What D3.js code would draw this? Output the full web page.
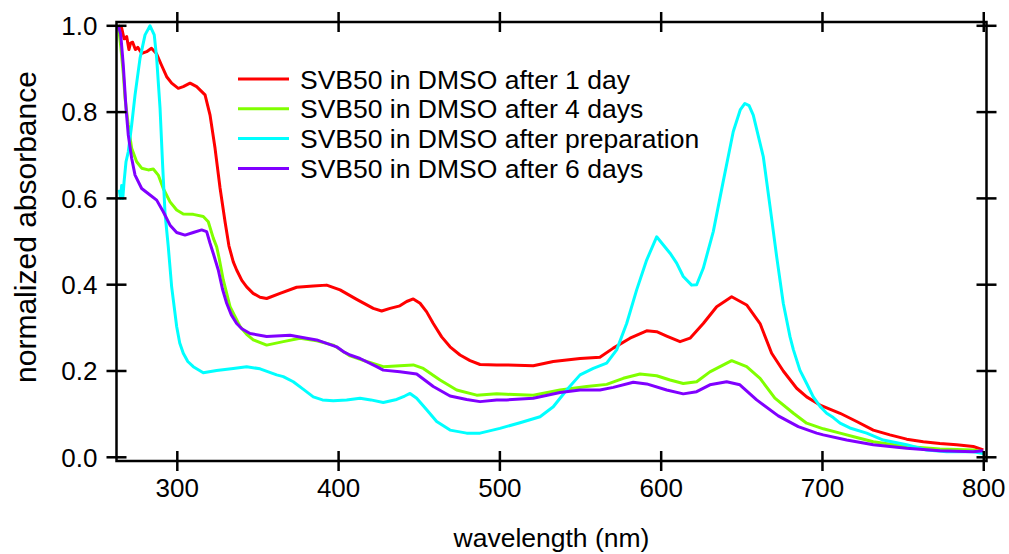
<!DOCTYPE html>
<html>
<head>
    <title>SVB50 absorbance</title>
    <meta charset="utf-8">
    <script src="https://cdn.jsdelivr.net/npm/d3@7/dist/d3.min.js"></script>
    <style>
        body {
            margin: 0;
            background: #fff;
        }

        svg {
            display: block;
            font-family: "Liberation Sans", Arial, sans-serif;
        }

        .frame line, .frame rect {
            stroke: #000;
            stroke-width: 2.5;
            fill: none;
        }

        .spectrum {
            fill: none;
            stroke-width: 3;
            stroke-linejoin: round;
        }
    </style>
</head>
<body>
<svg width="1009" height="554"></svg>
<script type="text/javascript">

var seriesNames = [
    'SVB50 in DMSO after 1 day',
    'SVB50 in DMSO after 4 days',
    'SVB50 in DMSO after preparation',
    'SVB50 in DMSO after 6 days'
];

var seriesColors = ['#ff0000', '#80ff00', '#00ffff', '#8000ff'];

// [wavelength nm, normalized absorbance]
var day1 = [
    [263.5, 1.0], [265.5, 0.995], [267, 0.97], [268.6, 0.975], [270, 0.945], [271, 0.96],
    [272.3, 0.962], [274, 0.945], [275.5, 0.95], [278, 0.936], [281, 0.94], [284, 0.948],
    [287, 0.936], [290.3, 0.908], [293.4, 0.882], [296.5, 0.867], [300.6, 0.855], [303.7, 0.859],
    [307.9, 0.867], [312, 0.859], [317.2, 0.84], [320.3, 0.793], [323.4, 0.716], [326.5, 0.624],
    [329.6, 0.546], [332, 0.49], [334.7, 0.453], [336.8, 0.434], [340, 0.41], [343, 0.395],
    [347, 0.38], [351.3, 0.371], [355.4, 0.368], [363.7, 0.38], [374, 0.394], [384.3, 0.397],
    [392.6, 0.399], [400.9, 0.388], [411.2, 0.366], [421.5, 0.345], [426.7, 0.339], [431.9, 0.345],
    [438, 0.351], [442.2, 0.361], [446.3, 0.367], [450.5, 0.357], [454.6, 0.337], [458.7, 0.31],
    [463.9, 0.279], [469.1, 0.256], [475.3, 0.237], [481.5, 0.224], [487.7, 0.215], [498, 0.214],
    [504.2, 0.214], [520.7, 0.212], [533.1, 0.222], [549.7, 0.229], [562, 0.232], [570.3, 0.253],
    [580.7, 0.276], [591, 0.293], [597.2, 0.291], [603.4, 0.281], [611.7, 0.268], [617.9, 0.276],
    [626.1, 0.31], [634.4, 0.349], [643.7, 0.372], [653, 0.353], [661.3, 0.31], [668.5, 0.241],
    [675.7, 0.2], [684, 0.16], [690.2, 0.14], [696.4, 0.126], [698.5, 0.121], [710.9, 0.102],
    [721.2, 0.083], [731.5, 0.063], [741.8, 0.052], [752.2, 0.042], [762.5, 0.036], [772.8, 0.032],
    [783.2, 0.029], [793.5, 0.025], [799.7, 0.017]
];

var day4 = [
    [263.5, 1.0], [265, 0.95], [266.5, 0.89], [267.6, 0.832], [269.6, 0.77], [271.7, 0.716],
    [274.8, 0.685], [277.9, 0.67], [282, 0.666], [285.1, 0.668], [288.2, 0.654], [291.3, 0.623],
    [295.5, 0.592], [299.6, 0.573], [303.7, 0.564], [309.9, 0.563], [316.1, 0.558], [319.2, 0.546],
    [322.3, 0.508], [324.4, 0.488], [326, 0.46], [328.5, 0.411], [332.7, 0.349], [338.9, 0.303],
    [343, 0.285], [347.1, 0.272], [355.4, 0.26], [365.7, 0.268], [376.1, 0.276], [386.4, 0.27],
    [396.7, 0.26], [407.1, 0.235], [417.4, 0.222], [427.7, 0.21], [438, 0.212], [446.3, 0.214],
    [452.5, 0.206], [462.9, 0.179], [473.2, 0.156], [485.6, 0.144], [498, 0.147], [504.2, 0.146],
    [520.7, 0.144], [537.3, 0.156], [553.8, 0.164], [566.2, 0.169], [576.5, 0.183], [586.9, 0.193],
    [597.2, 0.189], [605.5, 0.179], [613.7, 0.171], [622, 0.175], [630.2, 0.198], [643.7, 0.224],
    [653, 0.21], [661.3, 0.183], [670.5, 0.137], [682, 0.102], [690.2, 0.079], [700.5, 0.066],
    [710.9, 0.056], [721.2, 0.046], [731.5, 0.036], [752.2, 0.025], [772.8, 0.019], [793.5, 0.017],
    [799.7, 0.013]
];

var prep = [
    [264, 0.62], [264.8, 0.6], [265.5, 0.63], [266.2, 0.6], [267, 0.639], [268.2, 0.685],
    [269.6, 0.708], [271.7, 0.77], [273.8, 0.84], [276.9, 0.925], [280, 0.979], [283.1, 1.0],
    [285.7, 0.979], [287.2, 0.925], [289.3, 0.809], [290.9, 0.677], [292.4, 0.565], [294.4, 0.488],
    [296.5, 0.395], [299.6, 0.303], [301.5, 0.265], [303.7, 0.241], [306.5, 0.222], [309.9, 0.21],
    [316.1, 0.196], [324.4, 0.201], [334.7, 0.206], [343, 0.21], [351.3, 0.205], [361.6, 0.191],
    [365.7, 0.187], [371.9, 0.175], [378, 0.158], [384.3, 0.14], [390, 0.133], [396.7, 0.131],
    [405, 0.133], [413.3, 0.137], [420, 0.133], [427.7, 0.127], [436, 0.134], [441, 0.142],
    [444.3, 0.148], [448.4, 0.137], [454.6, 0.11], [460.8, 0.083], [469.1, 0.063], [479.4, 0.056],
    [487.7, 0.056], [500, 0.067], [512.5, 0.08], [524.9, 0.094], [533.1, 0.117], [541.4, 0.156],
    [549.7, 0.191], [557.9, 0.206], [566.2, 0.218], [572.4, 0.249], [578.6, 0.31], [584.8, 0.388],
    [591, 0.457], [597.2, 0.511], [605.5, 0.473], [609.6, 0.45], [613.7, 0.419], [618.9, 0.399],
    [622, 0.4], [626.1, 0.438], [632.3, 0.523], [638.5, 0.64], [644.7, 0.755], [649, 0.805],
    [651.9, 0.82], [654.5, 0.815], [657.1, 0.793], [663.3, 0.697], [667.5, 0.581], [671.6, 0.465],
    [675.7, 0.357], [679.9, 0.279], [682, 0.249], [686, 0.202], [690.2, 0.171], [694.3, 0.14],
    [698.5, 0.118], [702.6, 0.102], [706.7, 0.092], [710.9, 0.079], [717, 0.068], [727.4, 0.056],
    [737.7, 0.04], [752.2, 0.029], [764.6, 0.017], [777, 0.013], [793.5, 0.013], [799.7, 0.009]
];

var day6 = [
    [263.5, 1.0], [264.9, 0.98], [266.5, 0.909], [268.2, 0.809], [269.6, 0.747], [271.7, 0.693],
    [273.8, 0.654], [277.9, 0.623], [283.1, 0.608], [287.2, 0.596], [291.3, 0.569], [295.5, 0.538],
    [299.6, 0.521], [304.8, 0.515], [309.9, 0.521], [315.1, 0.527], [318.2, 0.523], [320.3, 0.496],
    [322.5, 0.47], [325.4, 0.434], [328, 0.39], [330.6, 0.357], [333.5, 0.33], [336.8, 0.31],
    [340, 0.298], [345.1, 0.287], [355.4, 0.28], [369.9, 0.283], [380.2, 0.276], [386.4, 0.272],
    [392.6, 0.264], [398.8, 0.256], [402.9, 0.245], [407.1, 0.237], [413.3, 0.229], [423.6, 0.21],
    [427.7, 0.202], [438, 0.198], [448.4, 0.193], [458.7, 0.164], [469.1, 0.142], [479.4, 0.134],
    [487.7, 0.129], [498, 0.133], [504.2, 0.133], [520.7, 0.137], [537.3, 0.15], [549.7, 0.156],
    [562, 0.156], [570.3, 0.162], [582.7, 0.174], [591, 0.17], [603.4, 0.156], [613.7, 0.147],
    [622, 0.152], [630.2, 0.168], [640.6, 0.175], [648.8, 0.168], [659.2, 0.133], [672.6, 0.096],
    [685, 0.071], [696.4, 0.056], [700.5, 0.052], [715, 0.04], [731.5, 0.029], [752.2, 0.021],
    [772.8, 0.015], [793.5, 0.013], [799.7, 0.015]
];

var seriesData = [day1, day4, prep, day6];

var xTicks = [300, 400, 500, 600, 700, 800],
    yTicks = [0.0, 0.2, 0.4, 0.6, 0.8, 1.0];

var svg = d3.select('svg'),
    plotLeft = 116.5,
    plotRight = 986.5,
    plotTop = 22,
    plotBottom = 461,
    tickLen = 10;

var x = d3.scaleLinear().domain([262.3, 801.7]).range([plotLeft, plotRight]),
    y = d3.scaleLinear().domain([-0.0086, 1.0088]).range([plotBottom, plotTop]);

var line = d3.line()
    .x(function (d) { return x(d[0]); })
    .y(function (d) { return y(d[1]); });

svg.append('clipPath')
    .attr('id', 'plotClip')
    .append('rect')
    .attr('x', plotLeft)
    .attr('y', plotTop - 2)
    .attr('width', plotRight - plotLeft)
    .attr('height', plotBottom - plotTop + 2);

var plot = svg.append('g').attr('clip-path', 'url(#plotClip)');

plot.selectAll('path')
    .data(seriesData)
    .enter()
    .append('path')
    .attr('class', 'spectrum')
    .attr('stroke', function (d, i) { return seriesColors[i]; })
    .attr('d', line);

// frame with ticks crossing every side
var frame = svg.append('g').attr('class', 'frame');

frame.append('rect')
    .attr('x', plotLeft)
    .attr('y', plotTop)
    .attr('width', plotRight - plotLeft)
    .attr('height', plotBottom - plotTop);

xTicks.forEach(function (t) {
    [plotTop, plotBottom].forEach(function (yy) {
        frame.append('line')
            .attr('x1', x(t)).attr('x2', x(t))
            .attr('y1', yy - tickLen).attr('y2', yy + tickLen);
    });
});

yTicks.forEach(function (t) {
    [plotLeft, plotRight].forEach(function (xx) {
        frame.append('line')
            .attr('x1', xx - tickLen).attr('x2', xx + tickLen)
            .attr('y1', y(t)).attr('y2', y(t));
    });
});

svg.append('g')
    .selectAll('text')
    .data(xTicks)
    .enter()
    .append('text')
    .attr('x', function (d) { return x(d); })
    .attr('y', 497)
    .attr('text-anchor', 'middle')
    .attr('font-size', 26)
    .text(function (d) { return d; });

svg.append('g')
    .selectAll('text')
    .data(yTicks)
    .enter()
    .append('text')
    .attr('x', plotLeft - 19)
    .attr('y', function (d) { return y(d); })
    .attr('dy', '0.36em')
    .attr('text-anchor', 'end')
    .attr('font-size', 26)
    .text(function (d) { return d3.format('.1f')(d); });

svg.append('text')
    .attr('x', (plotLeft + plotRight) / 2)
    .attr('y', 547)
    .attr('text-anchor', 'middle')
    .attr('font-size', 26.5)
    .text('wavelength (nm)');

svg.append('text')
    .attr('transform', 'translate(36,227) rotate(-90)')
    .attr('text-anchor', 'middle')
    .attr('font-size', 30)
    .text('normalized absorbance');

// legend
var legend = svg.append('g')
    .selectAll('g')
    .data(seriesNames)
    .enter()
    .append('g')
    .attr('transform', function (d, i) { return 'translate(238,' + (79 + i * 29.8) + ')'; });

legend.append('line')
    .attr('x1', 0)
    .attr('x2', 51)
    .attr('stroke', function (d, i) { return seriesColors[i]; })
    .attr('stroke-width', 3);

legend.append('text')
    .attr('x', 62)
    .attr('dy', '0.36em')
    .attr('font-size', 26.5)
    .text(function (d) { return d; });

</script>
</body>
</html>
